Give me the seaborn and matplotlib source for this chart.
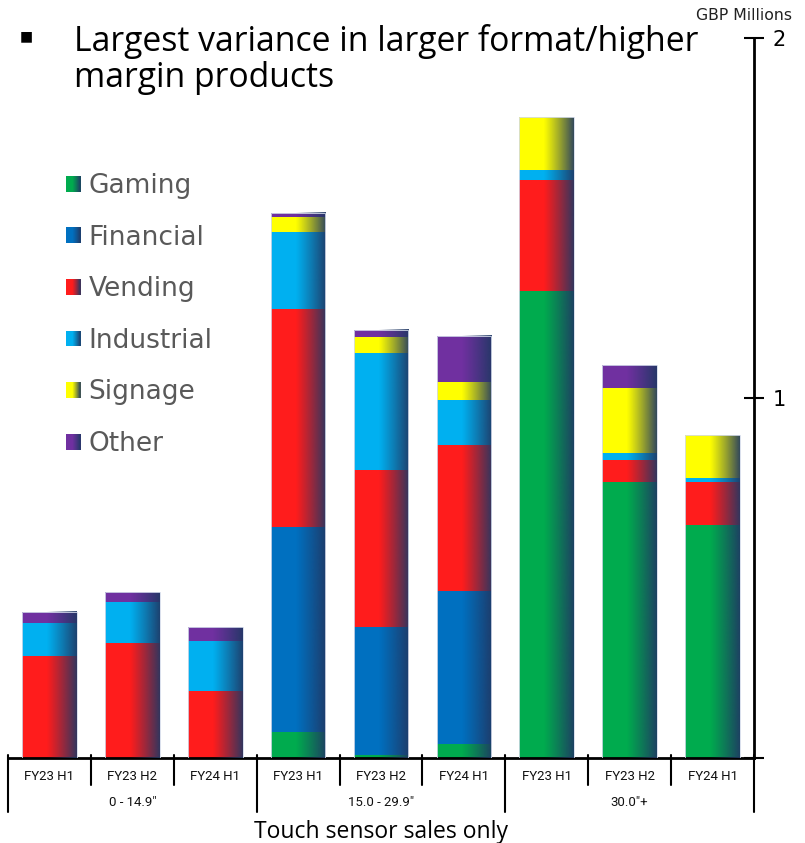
import numpy as np
import pandas as pd
import matplotlib
matplotlib.use("Agg")
import matplotlib.pyplot as plt
import seaborn as sns
from matplotlib.colors import to_rgb
from matplotlib.patches import Rectangle
from matplotlib.legend_handler import HandlerBase

# ---- data (GBP millions) ----
size_groups = ['0 - 14.9"', '15.0 - 29.9"', '30.0"+']
periods = ["FY23 H1", "FY23 H2", "FY24 H1"]
segments = ["Gaming", "Financial", "Vending", "Industrial", "Signage", "Other"]

gaming = [0.000, 0.000, 0.000, 0.072, 0.008, 0.039, 1.297, 0.767, 0.648]
financial = [0.000, 0.000, 0.000, 0.569, 0.355, 0.426, 0.000, 0.000, 0.000]
vending = [0.283, 0.320, 0.187, 0.606, 0.437, 0.404, 0.309, 0.061, 0.118]
industrial = [0.092, 0.113, 0.138, 0.213, 0.326, 0.125, 0.026, 0.019, 0.012]
signage = [0.000, 0.000, 0.000, 0.044, 0.044, 0.050, 0.148, 0.182, 0.119]
other = [0.031, 0.027, 0.038, 0.011, 0.019, 0.129, 0.000, 0.062, 0.000]

seg_colors = ["#00AB4E", "#0070C0", "#FF1C1C", "#00B0F0", "#FFFF00", "#7030A0"]
shade = "#203864"

series = [gaming, financial, vending, industrial, signage, other]
rows = []
for pos in range(len(gaming)):
    g = size_groups[pos // 3]
    p = periods[pos % 3]
    cum = 0.0
    for seg, vals in zip(segments, series):
        cum += vals[pos]
        rows.append(dict(pos=pos, group=g, period=p, segment=seg,
                         value=vals[pos], top=cum))
df = pd.DataFrame(rows)

sns.set_style("white")
plt.rcParams["font.family"] = ["DejaVu Sans"]

W, H = 805, 843
fig = plt.figure(figsize=(W / 100, H / 100), dpi=100)
ax = fig.add_axes([8 / W, 85 / H, 746 / W, 720 / H])


def fx(x):
    return x / W


def fy(y):
    return 1 - y / H


# stacked bars: draw cumulative tops from the highest segment downwards
bar_w = 0.66
first = True
for seg, col in reversed(list(zip(segments, seg_colors))):
    sub = df[df["segment"] == seg]
    sns.barplot(data=sub, x="pos", y="top", color=col, saturation=1,
                width=bar_w, linewidth=0, errorbar=None, ax=ax, zorder=2)
    if first:
        total_patches = list(ax.patches)
        first = False

# horizontal shading toward the right edge of each bar
ramp_t = np.linspace(0, 1, 256)


def ramp_alpha(t):
    return np.clip((t - 0.45) / 0.55, 0, 1) ** 1.1 * 0.92


grad = np.zeros((1, 256, 4))
grad[..., :3] = to_rgb(shade)
grad[..., 3] = ramp_alpha(ramp_t)

for p in total_patches:
    x0, w, h = p.get_x(), p.get_width(), p.get_height()
    ax.imshow(grad, extent=(x0, x0 + w, 0, h), aspect="auto",
              interpolation="bilinear", zorder=3)
    ax.add_patch(Rectangle((x0, 0), w, h, fill=False, edgecolor="#d3daea",
                           linewidth=0.6, zorder=4))

ax.set_xlim(-0.5, 8.5)
ax.set_ylim(0, 2)
ax.set_aspect("auto")
ax.set_xlabel("")
ax.set_ylabel("")
ax.set_xticks([])

# axes styling: value axis on the right
for side in ("left", "top"):
    ax.spines[side].set_visible(False)
for side in ("right", "bottom"):
    ax.spines[side].set_visible(True)
    ax.spines[side].set_linewidth(2)
    ax.spines[side].set_color("black")
ax.yaxis.tick_right()
ax.set_yticks([0, 1, 2])
ax.set_yticklabels(["", "1", "2"])
ax.tick_params(axis="y", direction="inout", length=15, width=1.5,
               labelsize=15, pad=6, colors="black")

# two-level category axis
xt = ax.get_xaxis_transform()
px_ax = 1 / 720
for b in np.arange(-0.5, 9, 1):
    is_group = (b + 0.5) % 3 == 0
    y_low = -54 * px_ax if is_group else -27 * px_ax
    ax.plot([b, b], [3 * px_ax, y_low], transform=xt, color="black",
            lw=1.5, clip_on=False, zorder=5)
for pos in range(9):
    ax.text(pos, -19 * px_ax, periods[pos % 3], transform=xt, ha="center",
            va="center", fontsize=9.5, family="Roboto", color="#111111")
for gi, g in enumerate(size_groups):
    ax.text(gi * 3 + 1, -45 * px_ax, g, transform=xt, ha="center",
            va="center", fontsize=9.5, family="Roboto", color="#111111")
ax.text(4, -74 * px_ax, "Touch sensor sales only", transform=xt,
        ha="center", va="center", fontsize=16.5, family="Open Sans",
        color="black")


# legend with shaded swatches
class ShadedSwatch(HandlerBase):
    def create_artists(self, legend, orig_handle, xdescent, ydescent,
                       width, height, fontsize, trans):
        base = np.array(to_rgb(orig_handle.get_facecolor()))
        dark = np.array(to_rgb(shade))
        n = 14
        out = []
        for i in range(n):
            t = (i + 0.5) / n
            a = ramp_alpha(t)
            c = base * (1 - a) + dark * a
            r = Rectangle((-xdescent + i * width / n, -ydescent),
                          width / n + 0.3, height, facecolor=c,
                          edgecolor="none", transform=trans)
            out.append(r)
        return out


handles = [Rectangle((0, 0), 1, 1, facecolor=c) for c in seg_colors]
fig.legend(handles, segments, handler_map={Rectangle: ShadedSwatch()},
           loc="upper left", bbox_to_anchor=(fx(66), fy(173)),
           frameon=False, fontsize=19, labelcolor="#595959",
           handlelength=0.55, handleheight=0.55, handletextpad=0.3,
           labelspacing=0.97, borderpad=0, borderaxespad=0)

# headline and unit label
fig.text(fx(26), fy(36), "\u25a0", fontsize=10, ha="center", va="center",
         color="black")
fig.text(fx(74), fy(24), "Largest variance in larger format/higher\nmargin products",
         ha="left", va="top", fontsize=24.3, family="Open Sans",
         linespacing=1.08, color="black")
fig.text(fx(744), fy(15), "GBP Millions", ha="center", va="center",
         fontsize=11.3, color="#222222")

fig.savefig("out.png", dpi=100)
